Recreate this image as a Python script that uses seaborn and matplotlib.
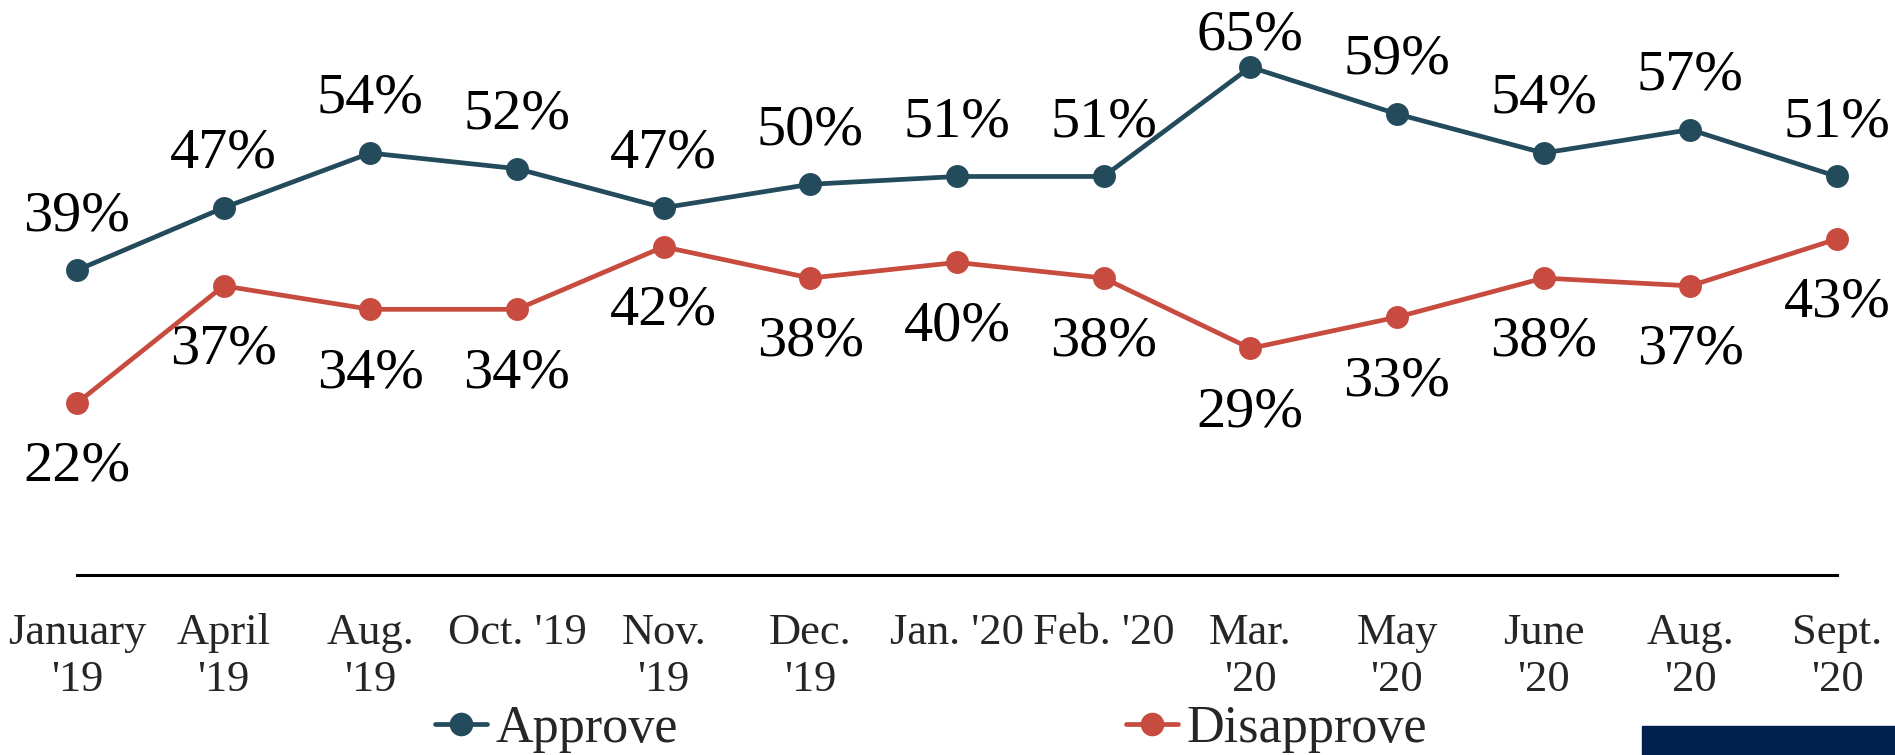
import pandas as pd
import matplotlib
matplotlib.use("Agg")
import matplotlib.pyplot as plt
from matplotlib.lines import Line2D
from matplotlib.patches import Rectangle
import seaborn as sns

# data
months = ["January\n'19", "April\n'19", "Aug.\n'19", "Oct. '19", "Nov.\n'19", "Dec.\n'19",
          "Jan. '20", "Feb. '20", "Mar.\n'20", "May\n'20", "June\n'20", "Aug.\n'20", "Sept.\n'20"]
approve = [39, 47, 54, 52, 47, 50, 51, 51, 65, 59, 54, 57, 51]
disapprove = [22, 37, 34, 34, 42, 38, 40, 38, 29, 33, 38, 37, 43]

approve_color = "#234b5c"
disapprove_color = "#c84b3f"

sns.set_style("white")
plt.rcParams["font.family"] = ["Liberation Serif", "DejaVu Serif"]

df = pd.DataFrame({
    "pos": list(range(len(months))) * 2,
    "value": approve + disapprove,
    "series": ["Approve"] * len(months) + ["Disapprove"] * len(months),
})

fig = plt.figure(figsize=(18.95, 7.55), dpi=100)
ax = fig.add_axes([0.0406, 0.2384, 0.9288, 0.7245])

sns.lineplot(data=df, x="pos", y="value", hue="series",
             palette={"Approve": approve_color, "Disapprove": disapprove_color},
             marker="o", markersize=16.5, markeredgewidth=0, linewidth=3.4,
             legend=False, clip_on=False, ax=ax)

ax.set_xlim(0, len(months) - 1)
ax.set_ylim(0, 70)
ax.set_xlabel("")
ax.set_ylabel("")
ax.set_yticks([])
ax.set_xticks(range(len(months)))
ax.set_xticklabels(months, fontsize=32, linespacing=1.25)
ax.tick_params(axis="x", length=0, pad=27)

for s in ["top", "left", "right"]:
    ax.spines[s].set_visible(False)
ax.spines["bottom"].set_color("black")
ax.spines["bottom"].set_linewidth(2.2)

# data labels
for i, v in enumerate(approve):
    off = 23 if v == max(approve) else 39
    ax.annotate(f"{v}%", (i, v), xytext=(0, off), textcoords="offset points",
                ha="center", va="center", fontsize=42, color="black", annotation_clip=False)
for i, v in enumerate(disapprove):
    ax.annotate(f"{v}%", (i, v), xytext=(0, -46), textcoords="offset points",
                ha="center", va="center", fontsize=42, color="black", annotation_clip=False)

handles = [
    Line2D([], [], color=approve_color, lw=3.4, marker="o", markersize=17, markeredgewidth=0),
    Line2D([], [], color=disapprove_color, lw=3.4, marker="o", markersize=17, markeredgewidth=0),
]
fig.legend(handles, ["Approve", "Disapprove"], loc="center",
           bbox_to_anchor=(931 / 1895, 1 - 729 / 755), ncol=2, frameon=False,
           fontsize=37.5, handlelength=1.0, handletextpad=0.16, columnspacing=8.6,
           borderpad=0)

# logo strip in the corner
fig.patches.append(Rectangle((1642 / 1895, 0), 1 - 1642 / 1895, 29 / 755,
                             transform=fig.transFigure, color="#00214f", zorder=0))

fig.savefig("out.png", dpi=100)
